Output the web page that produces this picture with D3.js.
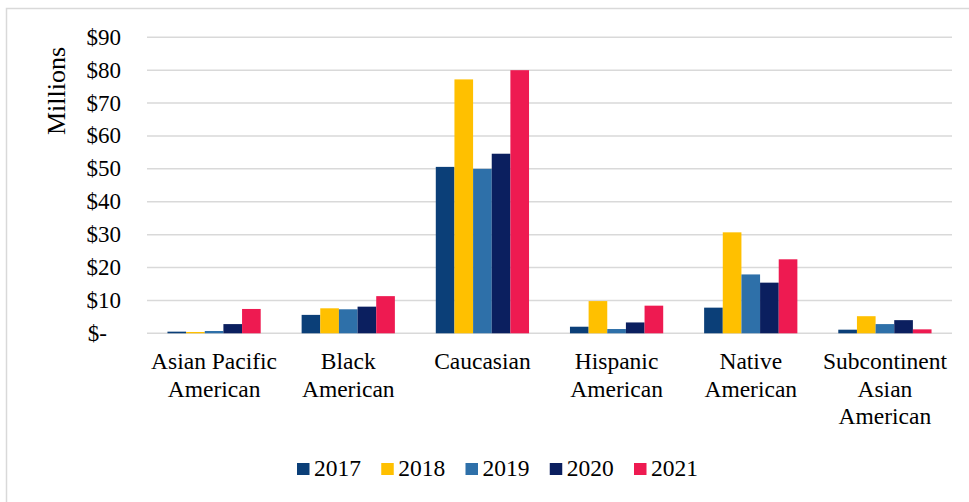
<!DOCTYPE html>
<html>
<head>
<meta charset="utf-8">
<script src="https://cdn.jsdelivr.net/npm/d3@7"></script>
<style>
  html, body { margin: 0; padding: 0; background: #fff; }
  svg { display: block; }
  text { font-family: "Liberation Serif", "Times New Roman", serif; fill: #000; }
</style>
</head>
<body>
<svg id="chart" width="969" height="502"></svg>
<script>
const categories = [
  ["Asian Pacific", "American"],
  ["Black", "American"],
  ["Caucasian"],
  ["Hispanic", "American"],
  ["Native", "American"],
  ["Subcontinent", "Asian", "American"]
];
const years = ["2017", "2018", "2019", "2020", "2021"];
const v2017 = [0.5, 5.6, 50.6, 2.0, 7.8, 1.1];
const v2018 = [0.4, 7.6, 77.2, 9.8, 30.7, 5.2];
const v2019 = [0.7, 7.3, 50.0, 1.3, 17.9, 2.8];
const v2020 = [2.8, 8.1, 54.6, 3.3, 15.4, 4.0];
const v2021 = [7.4, 11.3, 80.0, 8.4, 22.5, 1.2];
const seriesValues = [v2017, v2018, v2019, v2020, v2021];
const yTicks = [0, 10, 20, 30, 40, 50, 60, 70, 80, 90];
const tickLabels = ["$-", "$10", "$20", "$30", "$40", "$50", "$60", "$70", "$80", "$90"];
const colors = ["#0B3F78", "#FFC000", "#2E70A9", "#0B1F5F", "#EE1A51"];

const svg = d3.select("#chart");

// outer border
svg.append("rect")
  .attr("x", 6.5).attr("y", 8.5).attr("width", 990).attr("height", 520)
  .attr("fill", "none").attr("stroke", "#d9d9d9").attr("stroke-width", 1.5);

const plotL = 147, plotR = 952, plotT = 37.3, plotB = 333.3;
const catKeys = categories.map(c => c.join(" "));

const y = d3.scaleLinear().domain([0, 90]).range([plotB, plotT]);
const x0 = d3.scaleBand().domain(catKeys).range([plotL, plotR]).paddingInner(0).paddingOuter(0);
const groupW = x0.bandwidth() * 0.695;
const x1 = d3.scaleBand().domain(years).range([0, groupW]).padding(0);

// gridlines
svg.append("g").selectAll("line").data(yTicks).join("line")
  .attr("x1", plotL).attr("x2", plotR)
  .attr("y1", d => y(d)).attr("y2", d => y(d))
  .attr("stroke", "#d9d9d9").attr("stroke-width", 1.5);

// y tick labels
svg.append("g").selectAll("text").data(yTicks).join("text")
  .attr("x", (d, i) => i === 0 ? 107 : 121)
  .attr("y", d => y(d) + 7.5)
  .attr("text-anchor", "end")
  .attr("font-size", 23)
  .text((d, i) => tickLabels[i]);

// y axis title
svg.append("text")
  .attr("transform", `translate(65, ${91}) rotate(-90)`)
  .attr("text-anchor", "middle")
  .attr("font-size", 26)
  .text("Millions");

// bars
const groups = svg.append("g").selectAll("g").data(catKeys).join("g")
  .attr("transform", d => `translate(${x0(d) + (x0.bandwidth() - groupW) / 2},0)`);

groups.selectAll("rect").data((d, ci) => years.map((yr, si) => ({ yr, si, v: seriesValues[si][ci] })))
  .join("rect")
  .attr("x", d => x1(d.yr))
  .attr("width", x1.bandwidth())
  .attr("y", d => y(d.v))
  .attr("height", d => plotB - y(d.v))
  .attr("fill", d => colors[d.si]);

// category labels
const catG = svg.append("g").selectAll("text").data(categories).join("text")
  .attr("text-anchor", "middle")
  .attr("font-size", 23.5);
catG.each(function(lines, i) {
  const cx = x0(catKeys[i]) + x0.bandwidth() / 2;
  d3.select(this).selectAll("tspan").data(lines).join("tspan")
    .attr("x", cx)
    .attr("y", (d, j) => 369 + j * 27.5)
    .text(d => d);
});

// legend
const legX = d3.scalePoint().domain(years).range([297, 634]);
const leg = svg.append("g").selectAll("g").data(years).join("g")
  .attr("transform", d => `translate(${legX(d)},463)`);
leg.append("rect").attr("width", 12.5).attr("height", 12).attr("fill", (d, i) => colors[i]);
leg.append("text").attr("x", 17).attr("y", 13).attr("font-size", 23.5).text(d => d);
</script>
</body>
</html>
